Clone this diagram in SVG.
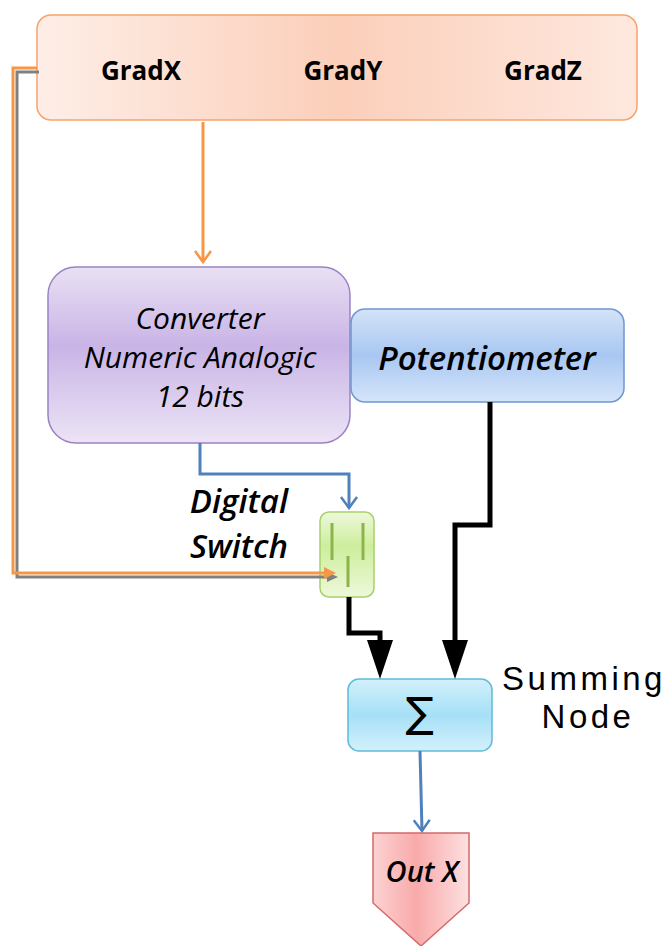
<svg xmlns="http://www.w3.org/2000/svg" width="666" height="946" viewBox="0 0 666 946">
<defs>
<linearGradient id="gOrange" x1="0" y1="0" x2="1" y2="0">
<stop offset="0" stop-color="#feeee7"/>
<stop offset="0.5" stop-color="#fbcfba"/>
<stop offset="1" stop-color="#fee8de"/>
</linearGradient>
<linearGradient id="gPurple" x1="0" y1="0" x2="0" y2="1">
<stop offset="0" stop-color="#e9e0f4"/>
<stop offset="0.45" stop-color="#c9b4e6"/>
<stop offset="1" stop-color="#ece4f6"/>
</linearGradient>
<linearGradient id="gBlue" x1="0" y1="0" x2="0" y2="1">
<stop offset="0" stop-color="#d4e3f8"/>
<stop offset="0.5" stop-color="#a8c7f2"/>
<stop offset="1" stop-color="#d6e5f9"/>
</linearGradient>
<linearGradient id="gGreen" x1="0" y1="0" x2="0" y2="1">
<stop offset="0" stop-color="#eef8dc"/>
<stop offset="0.4" stop-color="#cdee9c"/>
<stop offset="1" stop-color="#eef8dc"/>
</linearGradient>
<linearGradient id="gCyan" x1="0" y1="0" x2="0" y2="1">
<stop offset="0" stop-color="#d2f0fb"/>
<stop offset="0.5" stop-color="#a6e0f7"/>
<stop offset="1" stop-color="#d3f0fb"/>
</linearGradient>
<linearGradient id="gPink" x1="0" y1="0" x2="1" y2="0">
<stop offset="0" stop-color="#fcd2d2"/>
<stop offset="0.45" stop-color="#f9aaaa"/>
<stop offset="1" stop-color="#fde0e0"/>
</linearGradient>
<marker id="vOrange" markerUnits="userSpaceOnUse" markerWidth="20" markerHeight="20" refX="15" refY="10" viewBox="0 0 20 20" orient="auto">
<path d="M4,2 L15,10 L4,18" fill="none" stroke="#f79646" stroke-width="2.5"/>
</marker>
<marker id="vBlue" markerUnits="userSpaceOnUse" markerWidth="20" markerHeight="20" refX="15" refY="10" viewBox="0 0 20 20" orient="auto">
<path d="M4,2 L15,10 L4,18" fill="none" stroke="#4f81bd" stroke-width="2.5"/>
</marker>
</defs>
<style>
.lbl{font-family:"Open Sans","Liberation Sans",sans-serif;fill:#000}
.bold{font-weight:bold}
.it{font-style:italic}
.sum{font-family:"Liberation Sans",Arial,sans-serif;font-size:33px;letter-spacing:3.5px;fill:#000}
</style>
<g id="grad">
<rect x="37" y="15" width="600" height="105" rx="14" fill="url(#gOrange)" stroke="#f5a46c" stroke-width="1.5"/>
<text class="lbl bold" x="141" y="80" font-size="26" text-anchor="middle">GradX</text>
<text class="lbl bold" x="343" y="80" font-size="26" text-anchor="middle">GradY</text>
<text class="lbl bold" x="543" y="80" font-size="26" text-anchor="middle">GradZ</text>
</g>
<g id="converter">
<rect x="48" y="267" width="302" height="176" rx="28" fill="url(#gPurple)" stroke="#9b82c3" stroke-width="1.5"/>
<text class="lbl it" x="200" y="329" font-size="30" text-anchor="middle">Converter</text>
<text class="lbl it" x="200" y="368" font-size="30" text-anchor="middle">Numeric Analogic</text>
<text class="lbl it" x="200" y="407" font-size="30" text-anchor="middle">12 bits</text>
</g>
<g id="potentiometer">
<rect x="351" y="309" width="273" height="93" rx="14" fill="url(#gBlue)" stroke="#6c98d4" stroke-width="1.5"/>
<text class="lbl it" x="487" y="370" font-size="33" font-weight="600" text-anchor="middle">Potentiometer</text>
</g>
<g id="switch">
<rect x="320" y="512" width="54" height="85" rx="9" fill="url(#gGreen)" stroke="#a8cf6c" stroke-width="1.5"/>
<path d="M332,523 L332,560 M363,523 L363,560 M348,556 L348,587" stroke="#8db44a" stroke-width="3"/>
<text class="lbl it" x="288" y="513" font-size="33" font-weight="600" text-anchor="end">Digital</text>
<text class="lbl it" x="288" y="558" font-size="33" font-weight="600" text-anchor="end">Switch</text>
</g>
<g id="summing">
<rect x="348" y="679" width="144" height="72" rx="11" fill="url(#gCyan)" stroke="#5dbcd9" stroke-width="1.5"/>
<text x="420" y="727" font-family="'DejaVu Sans',sans-serif" font-size="42" text-anchor="middle" fill="#000">∑</text>
<text class="sum" x="584" y="690" text-anchor="middle">Summing</text>
<text class="sum" x="588" y="728" text-anchor="middle">Node</text>
</g>
<g id="outx">
<path d="M373,833 L469,833 L469,903 L421,946 L373,903 Z" fill="url(#gPink)" stroke="#d36a6a" stroke-width="1.5"/>
<text class="lbl it" x="422" y="882" font-size="29" font-weight="600" text-anchor="middle">Out X</text>
</g>
<g id="connectors">
<path d="M203,122 L203,262" fill="none" stroke="#f79646" stroke-width="3" marker-end="url(#vOrange)"/>
<path d="M200,443 L200,474 L349,474 L349,508" fill="none" stroke="#4f81bd" stroke-width="3" marker-end="url(#vBlue)"/>
<path d="M39,72 L17,72 L17,577 L328,577" fill="none" stroke="#808080" stroke-width="3"/>
<path d="M327,572 L338,577 L327,582 Z" fill="#808080"/>
<path d="M37,68 L13,68 L13,573 L326,573" fill="none" stroke="#f79646" stroke-width="3"/>
<path d="M324,567 L336,573 L324,579 Z" fill="#f79646"/>
<path d="M349,597 L349,633 L380,633 L380,650" fill="none" stroke="#000" stroke-width="5"/>
<path d="M367,640 L393,640 L380,679 Z" fill="#000"/>
<path d="M490,402 L490,525 L455,525 L455,650" fill="none" stroke="#000" stroke-width="5"/>
<path d="M442,640 L468,640 L455,679 Z" fill="#000"/>
<path d="M420,751 L422,831" fill="none" stroke="#4f81bd" stroke-width="3" marker-end="url(#vBlue)"/>
</g>
</svg>
